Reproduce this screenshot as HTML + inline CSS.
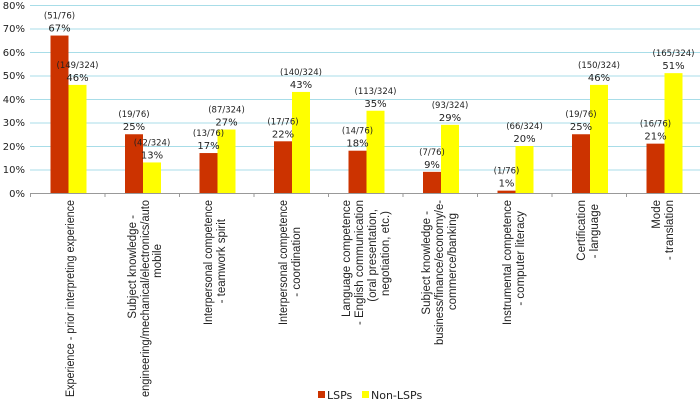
<!DOCTYPE html>
<html><head><meta charset="utf-8"><style>
html,body{margin:0;padding:0;background:#fff;overflow:hidden;}
svg{display:block;font-family:"DejaVu Sans","Liberation Sans",sans-serif;}
.c{font-family:"Liberation Sans",sans-serif;font-size:11.5px;fill:#222;text-anchor:end;}
.f{font-size:8.5px;fill:#222;text-anchor:middle;}
.p{font-size:10px;fill:#222;text-anchor:middle;}
</style></head><body>
<svg width="700" height="404" viewBox="0 0 700 404" xmlns="http://www.w3.org/2000/svg">
<g stroke="#a8dde8" stroke-width="1">
<line x1="30" x2="700" y1="5.5" y2="5.5"/><line x1="30" x2="700" y1="29" y2="29"/>
<line x1="30" x2="700" y1="52.5" y2="52.5"/><line x1="30" x2="700" y1="76" y2="76"/>
<line x1="30" x2="700" y1="99.5" y2="99.5"/><line x1="30" x2="700" y1="123" y2="123"/>
<line x1="30" x2="700" y1="146.5" y2="146.5"/><line x1="30" x2="700" y1="170" y2="170"/>
</g>
<g font-size="10" fill="#222" text-anchor="end">
<text x="25" y="9">80%</text><text x="25" y="32">70%</text><text x="25" y="56">60%</text>
<text x="25" y="79">50%</text><text x="25" y="103">40%</text><text x="25" y="126">30%</text>
<text x="25" y="150">20%</text><text x="25" y="173">10%</text><text x="25" y="197">0%</text>
</g>
<line x1="30" x2="700" y1="193.5" y2="193.5" stroke="#999"/>
<g stroke="#999">
<line x1="30.5" x2="30.5" y1="193" y2="197"/><line x1="105" x2="105" y1="193" y2="197"/>
<line x1="179.5" x2="179.5" y1="193" y2="197"/><line x1="254" x2="254" y1="193" y2="197"/>
<line x1="328.5" x2="328.5" y1="193" y2="197"/><line x1="403" x2="403" y1="193" y2="197"/>
<line x1="477.5" x2="477.5" y1="193" y2="197"/><line x1="552" x2="552" y1="193" y2="197"/>
<line x1="626.5" x2="626.5" y1="193" y2="197"/>
</g>
<g fill="#cc3300">
<rect x="50.5" y="35.55" width="18" height="157.45"/>
<rect x="125" y="134.25" width="18" height="58.75"/>
<rect x="199.5" y="153.05" width="18" height="39.95"/>
<rect x="274" y="141.3" width="18" height="51.7"/>
<rect x="348.5" y="150.7" width="18" height="42.3"/>
<rect x="423" y="171.85" width="18" height="21.15"/>
<rect x="497.5" y="190.65" width="18" height="2.35"/>
<rect x="572" y="134.25" width="18" height="58.75"/>
<rect x="646.5" y="143.65" width="18" height="49.35"/>
</g>
<g fill="#ffff00">
<rect x="68.5" y="84.9" width="18" height="108.1"/>
<rect x="143" y="162.45" width="18" height="30.55"/>
<rect x="217.5" y="129.55" width="18" height="63.45"/>
<rect x="292" y="91.95" width="18" height="101.05"/>
<rect x="366.5" y="110.75" width="18" height="82.25"/>
<rect x="441" y="124.85" width="18" height="68.15"/>
<rect x="515.5" y="146" width="18" height="47"/>
<rect x="590" y="84.9" width="18" height="108.1"/>
<rect x="664.5" y="73.15" width="18" height="119.85"/>
</g>
<g>
<text class="f" x="59.5" y="18.5">(51/76)</text><text class="p" x="59.5" y="31.5">67%</text>
<text class="f" x="77.5" y="68">(149/324)</text><text class="p" x="77.5" y="81">46%</text>
<text class="f" x="134" y="117">(19/76)</text><text class="p" x="134" y="130">25%</text>
<text class="f" x="152" y="145.5">(42/324)</text><text class="p" x="152" y="158.5">13%</text>
<text class="f" x="208.5" y="136">(13/76)</text><text class="p" x="208.5" y="149">17%</text>
<text class="f" x="226.5" y="112.5">(87/324)</text><text class="p" x="226.5" y="125.5">27%</text>
<text class="f" x="283" y="124.5">(17/76)</text><text class="p" x="283" y="137.5">22%</text>
<text class="f" x="301" y="75">(140/324)</text><text class="p" x="301" y="88">43%</text>
<text class="f" x="357.5" y="133.5">(14/76)</text><text class="p" x="357.5" y="146.5">18%</text>
<text class="f" x="375.5" y="94">(113/324)</text><text class="p" x="375.5" y="107">35%</text>
<text class="f" x="432" y="155">(7/76)</text><text class="p" x="432" y="168">9%</text>
<text class="f" x="450" y="108">(93/324)</text><text class="p" x="450" y="121">29%</text>
<text class="f" x="506.5" y="173.5">(1/76)</text><text class="p" x="506.5" y="186.5">1%</text>
<text class="f" x="524.5" y="129">(66/324)</text><text class="p" x="524.5" y="142">20%</text>
<text class="f" x="581" y="117">(19/76)</text><text class="p" x="581" y="130">25%</text>
<text class="f" x="599" y="68">(150/324)</text><text class="p" x="599" y="81">46%</text>
<text class="f" x="655.5" y="126.5">(16/76)</text><text class="p" x="655.5" y="139.5">21%</text>
<text class="f" x="673.5" y="56">(165/324)</text><text class="p" x="673.5" y="69">51%</text>
</g>
<g>
<text class="c" transform="translate(74,200) rotate(-90)" textLength="197" lengthAdjust="spacingAndGlyphs">Experience - prior interpreting experience</text>
<text class="c" transform="translate(136,215) rotate(-90)">Subject knowledge -</text>
<text class="c" transform="translate(149,200) rotate(-90)" textLength="197" lengthAdjust="spacingAndGlyphs">engineering/mechanical/electronics/auto</text>
<text class="c" transform="translate(161,244) rotate(-90)">mobile</text>
<text class="c" transform="translate(212,200) rotate(-90)" textLength="125" lengthAdjust="spacingAndGlyphs">Interpersonal competence</text>
<text class="c" transform="translate(225,219) rotate(-90)">- teamwork spirit</text>
<text class="c" transform="translate(287,200) rotate(-90)" textLength="125" lengthAdjust="spacingAndGlyphs">Interpersonal competence</text>
<text class="c" transform="translate(300,227) rotate(-90)">- coordination</text>
<text class="c" transform="translate(350,200) rotate(-90)">Language  competence</text>
<text class="c" transform="translate(363,200) rotate(-90)" textLength="125" lengthAdjust="spacingAndGlyphs">- English communication</text>
<text class="c" transform="translate(376,209) rotate(-90)">(oral presentation,</text>
<text class="c" transform="translate(389,211) rotate(-90)">negotiation, etc.)</text>
<text class="c" transform="translate(430,211) rotate(-90)">Subject knowledge -</text>
<text class="c" transform="translate(443,200) rotate(-90)" textLength="145" lengthAdjust="spacingAndGlyphs">business/finance/economy/e-</text>
<text class="c" transform="translate(456,213) rotate(-90)">commerce/banking</text>
<text class="c" transform="translate(511,200) rotate(-90)" textLength="125" lengthAdjust="spacingAndGlyphs">Instrumental competence</text>
<text class="c" transform="translate(524,211) rotate(-90)">- computer literacy</text>
<text class="c" transform="translate(585,200) rotate(-90)">Certification</text>
<text class="c" transform="translate(598,204) rotate(-90)">- language</text>
<text class="c" transform="translate(660,200) rotate(-90)">Mode</text>
<text class="c" transform="translate(673,200) rotate(-90)">- translation</text>
</g>
<rect x="318" y="391" width="7" height="7" fill="#cc3300"/>
<text x="327" y="399" font-size="11" fill="#222">LSPs</text>
<rect x="362" y="391" width="7" height="7" fill="#ffff00"/>
<text x="371" y="399" font-size="11" fill="#222">Non-LSPs</text>
</svg>
</body></html>
